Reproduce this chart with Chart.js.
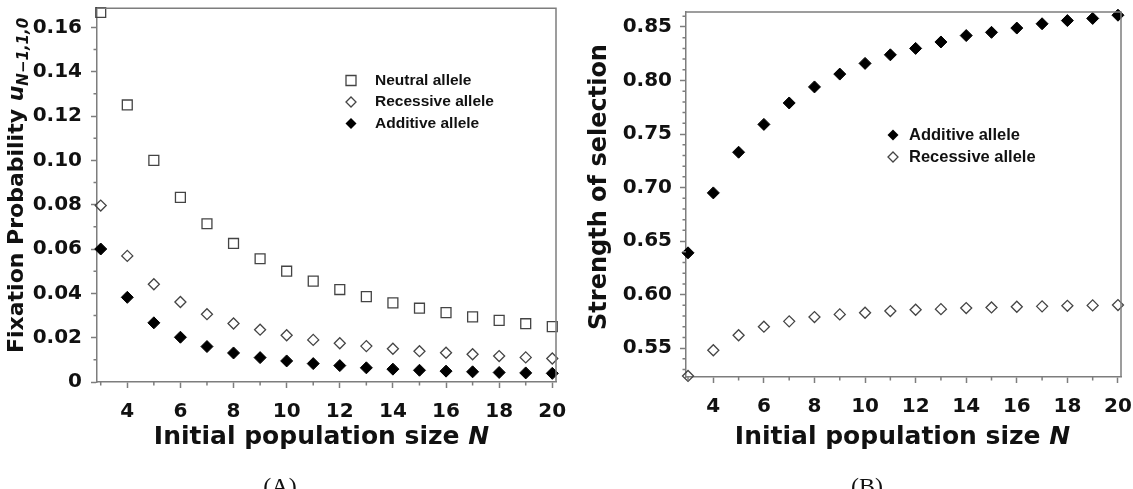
<!DOCTYPE html>
<html>
<head>
<meta charset="utf-8">
<script src="https://cdn.jsdelivr.net/npm/chart.js@4.4.1/dist/chart.umd.min.js"></script>
<style>
  body { margin: 0; background: #fff; overflow: hidden; }
  #wrap { position: relative; width: 1133px; height: 489px; }
  canvas { position: absolute; top: 0; }
</style>
</head>
<body>
<div id="wrap">
  <canvas id="chartA" width="566" height="489" style="left:0"></canvas>
  <canvas id="chartB" width="567" height="489" style="left:566px"></canvas>
</div>
<script>
// initial population size N
const sizes = [3, 4, 5, 6, 7, 8, 9, 10, 11, 12, 13, 14, 15, 16, 17, 18, 19, 20];

// panel A: fixation probability
const neutralFix = [0.1667, 0.125, 0.1, 0.0833, 0.0714, 0.0625, 0.0556, 0.05, 0.0455,
  0.0417, 0.0385, 0.0357, 0.0333, 0.0313, 0.0294, 0.0278, 0.0263, 0.025];
const recessiveFix = [0.0796, 0.0569, 0.0441, 0.0361, 0.0306, 0.0264, 0.0236, 0.0211, 0.0190,
  0.0175, 0.0162, 0.0150, 0.0139, 0.0132, 0.0125, 0.0117, 0.0111, 0.0106];
const additiveFix = [0.060, 0.0382, 0.0267, 0.0202, 0.0160, 0.0131, 0.0110, 0.0095, 0.0083,
  0.0074, 0.0064, 0.0058, 0.0053, 0.0049, 0.0046, 0.0043, 0.0041, 0.0039];

// panel B: strength of selection
const additiveSel = [0.639, 0.695, 0.733, 0.759, 0.779, 0.794, 0.806, 0.816, 0.824,
  0.830, 0.836, 0.842, 0.845, 0.849, 0.853, 0.856, 0.858, 0.861];
const recessiveSel = [0.524, 0.548, 0.562, 0.570, 0.575, 0.579, 0.5815, 0.583, 0.5846,
  0.5858, 0.5864, 0.5874, 0.588, 0.5886, 0.589, 0.5895, 0.5899, 0.5902];

// ticks
const xTicks = [4, 6, 8, 10, 12, 14, 16, 18, 20];
const xMinor = [3, 5, 7, 9, 11, 13, 15, 17, 19];
const yTicksA = [0, 0.02, 0.04, 0.06, 0.08, 0.10, 0.12, 0.14, 0.16];
const yMinorA = [0.01, 0.03, 0.05, 0.07, 0.09, 0.11, 0.13, 0.15];
const yTicksB = [0.55, 0.60, 0.65, 0.70, 0.75, 0.80, 0.85];
const yMinorB = [0.53, 0.54, 0.56, 0.57, 0.58, 0.59, 0.61, 0.62, 0.63, 0.64, 0.66, 0.67, 0.68, 0.69,
  0.71, 0.72, 0.73, 0.74, 0.76, 0.77, 0.78, 0.79, 0.81, 0.82, 0.83, 0.84, 0.86];

const AXIS = "#7d7d7d";
const INK = "#111";
const FONT = "'DejaVu Sans', sans-serif";

Chart.defaults.font.family = FONT;
Chart.defaults.color = INK;

function pts(ys) {
  return sizes.map((n, i) => ({ x: n, y: ys[i] }));
}

const openSquare = { pointStyle: "rect", pointRadius: 7, pointBorderColor: "#444", pointBackgroundColor: "rgba(0,0,0,0)", pointBorderWidth: 1.3 };
const openDiamond = { pointStyle: "rectRot", pointRadius: 5.5, pointBorderColor: "#444", pointBackgroundColor: "rgba(0,0,0,0)", pointBorderWidth: 1.3 };
const fullDiamond = { pointStyle: "rectRot", pointRadius: 6, pointBorderColor: "#000", pointBackgroundColor: "#000", pointBorderWidth: 1 };

function marker(ctx, kind, x, y, r) {
  ctx.beginPath();
  if (kind === "square") {
    ctx.rect(x - r, y - r, 2 * r, 2 * r);
  } else {
    ctx.moveTo(x - r, y); ctx.lineTo(x, y - r); ctx.lineTo(x + r, y); ctx.lineTo(x, y + r); ctx.closePath();
  }
  if (kind === "filled") { ctx.fillStyle = "#000"; ctx.fill(); }
  else { ctx.strokeStyle = "#444"; ctx.lineWidth = 1.3; ctx.stroke(); }
}

function axisScales(o) {
  return {
    x: {
      type: "linear", min: o.xmin, max: o.xmax,
      afterBuildTicks: s => { s.ticks = xTicks.map(v => ({ value: v })); },
      afterFit: s => { s.height = o.xh; s.paddingLeft = 0; s.paddingRight = 0; },
      ticks: { font: { size: 20, weight: "bold" }, color: INK, padding: 12, maxRotation: 0, autoSkip: false },
      grid: { drawOnChartArea: false, tickLength: 6, tickColor: AXIS, tickWidth: 1.5 },
      border: { color: AXIS, width: 1.5 }
    },
    y: {
      type: "linear", min: o.ymin, max: o.ymax,
      afterBuildTicks: s => { s.ticks = o.yTicks.map(v => ({ value: v })); },
      afterFit: s => { s.width = o.yw; s.paddingTop = 0; s.paddingBottom = 0; },
      ticks: {
        font: { size: 20, weight: "bold" }, color: INK, padding: o.ypad, autoSkip: false,
        callback: v => (v === 0 ? "0" : v.toFixed(2))
      },
      grid: { drawOnChartArea: false, tickLength: 6, tickColor: AXIS, tickWidth: 1.5 },
      border: { color: AXIS, width: 1.5 }
    }
  };
}

function decor(o) {
  return {
    id: "decor",
    afterDraw(chart) {
      const { ctx, chartArea: a, scales } = chart;
      ctx.save();
      // frame
      ctx.strokeStyle = AXIS; ctx.lineWidth = 1.5;
      ctx.beginPath();
      ctx.moveTo(a.left, a.top); ctx.lineTo(a.right, a.top); ctx.lineTo(a.right, a.bottom);
      ctx.stroke();
      // minor ticks
      ctx.beginPath();
      xMinor.forEach(v => {
        const px = scales.x.getPixelForValue(v);
        ctx.moveTo(px, a.bottom); ctx.lineTo(px, a.bottom + 3.5);
      });
      o.yMinor.forEach(v => {
        const py = scales.y.getPixelForValue(v);
        ctx.moveTo(a.left, py); ctx.lineTo(a.left - 3.5, py);
      });
      ctx.stroke();

      ctx.fillStyle = INK;
      // x title
      ctx.textBaseline = "alphabetic";
      const t1 = "Initial population size ";
      ctx.font = "bold 25px " + FONT;
      const w1 = ctx.measureText(t1).width;
      ctx.font = "italic bold 25px " + FONT;
      const w2 = ctx.measureText("N").width;
      const cx = (a.left + a.right) / 2 + o.xTitleShift;
      const sx = cx - (w1 + w2) / 2;
      ctx.font = "bold 25px " + FONT;
      ctx.textAlign = "left";
      ctx.fillText(t1, sx, 444);
      ctx.font = "italic bold 25px " + FONT;
      ctx.fillText("N", sx + w1, 444);

      // y title
      o.yTitle(ctx, a);

      // legend
      ctx.textBaseline = "middle";
      ctx.textAlign = "left";
      ctx.font = "bold " + o.legend.size + "px 'Liberation Sans', Arial, sans-serif";
      o.legend.rows.forEach((r, i) => {
        const y = o.legend.y + i * o.legend.gap;
        marker(ctx, r.kind, o.legend.mx, y, r.r);
        ctx.fillStyle = INK;
        ctx.fillText(r.label, o.legend.tx, y);
      });

      // caption
      ctx.font = "24px 'Liberation Serif', 'DejaVu Serif', serif";
      ctx.textAlign = "center";
      ctx.textBaseline = "top";
      ctx.fillStyle = INK;
      ctx.fillText(o.caption, o.capX, 476);
      ctx.restore();
    }
  };
}

new Chart(document.getElementById("chartA"), {
  type: "scatter",
  data: {
    datasets: [
      { label: "Neutral allele", data: pts(neutralFix), clip: false, ...openSquare },
      { label: "Recessive allele", data: pts(recessiveFix), clip: false, ...openDiamond },
      { label: "Additive allele", data: pts(additiveFix), clip: false, ...fullDiamond }
    ]
  },
  options: {
    responsive: false, animation: false,
    layout: { padding: { top: 4, right: 10, left: 0, bottom: 0 } },
    plugins: { legend: { display: false }, tooltip: { enabled: false } },
    scales: axisScales({ xmin: 2.86, xmax: 20.14, ymin: 0, ymax: 0.1686, yTicks: yTicksA, xh: 107, yw: 97, ypad: 9 })
  },
  plugins: [decor({
    yMinor: yMinorA, caption: "(A)", capX: 280, xTitleShift: -5,
    legend: { size: 15.5, mx: 351, tx: 375, y: 80.5, gap: 21.5, rows: [
      { kind: "square", r: 5, label: "Neutral allele" },
      { kind: "open", r: 5, label: "Recessive allele" },
      { kind: "filled", r: 5.5, label: "Additive allele" }
    ] },
    yTitle(ctx) {
      ctx.save();
      ctx.translate(23, 353);
      ctx.rotate(-Math.PI / 2);
      ctx.textAlign = "left";
      ctx.textBaseline = "alphabetic";
      ctx.fillStyle = INK;
      const main = "Fixation Probability ";
      ctx.font = "bold 22px " + FONT;
      ctx.fillText(main, 0, 0);
      let off = ctx.measureText(main).width;
      ctx.font = "italic bold 22px " + FONT;
      ctx.fillText("u", off, 0);
      off += ctx.measureText("u").width;
      ctx.font = "italic bold 15px " + FONT;
      ctx.fillText("N\u22121,1,0", off, 5);
      ctx.restore();
    }
  })]
});

new Chart(document.getElementById("chartB"), {
  type: "scatter",
  data: {
    datasets: [
      { label: "Additive allele", data: pts(additiveSel), clip: false, ...fullDiamond },
      { label: "Recessive allele", data: pts(recessiveSel), clip: false, ...openDiamond }
    ]
  },
  options: {
    responsive: false, animation: false,
    layout: { padding: { top: 12, right: 12, left: 0, bottom: 0 } },
    plugins: { legend: { display: false }, tooltip: { enabled: false } },
    scales: axisScales({ xmin: 2.92, xmax: 20.12, ymin: 0.523, ymax: 0.864, yTicks: yTicksB, xh: 112, yw: 120, ypad: 8 })
  },
  plugins: [decor({
    yMinor: yMinorB, caption: "(B)", capX: 301, xTitleShift: -1,
    legend: { size: 16.5, mx: 327, tx: 343, y: 135, gap: 22, rows: [
      { kind: "filled", r: 5.5, label: "Additive allele" },
      { kind: "open", r: 5, label: "Recessive allele" }
    ] },
    yTitle(ctx, a) {
      ctx.save();
      ctx.translate(40, 187);
      ctx.rotate(-Math.PI / 2);
      ctx.textAlign = "center";
      ctx.textBaseline = "alphabetic";
      ctx.fillStyle = INK;
      ctx.font = "bold 24px " + FONT;
      ctx.fillText("Strength of selection", 0, 0);
      ctx.restore();
    }
  })]
});
</script>
</body>
</html>
